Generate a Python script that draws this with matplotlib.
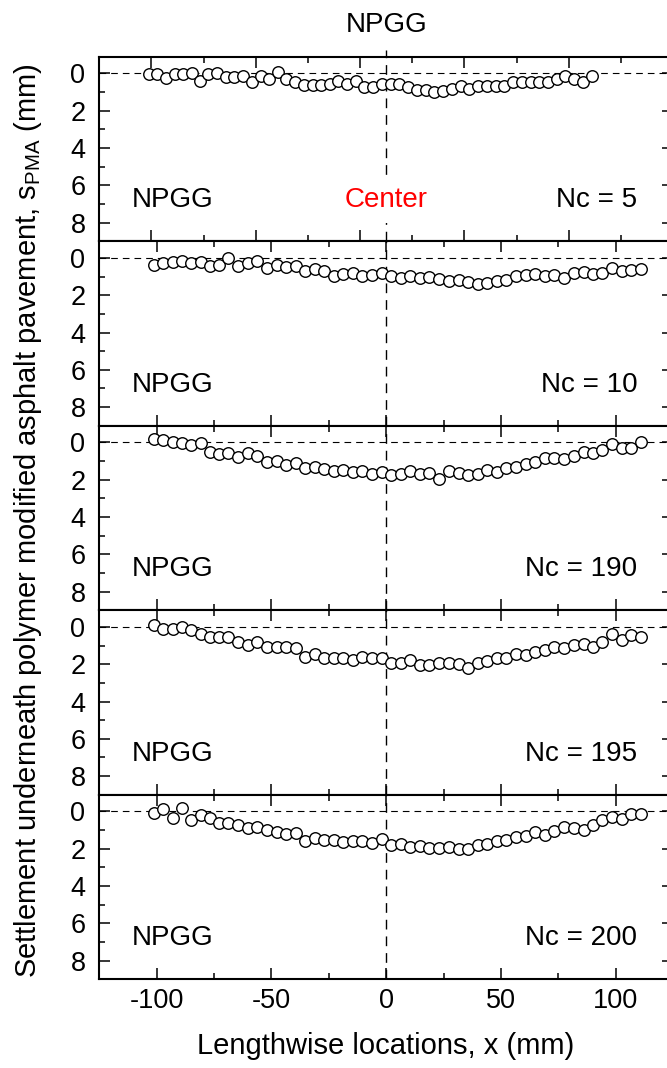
import matplotlib
matplotlib.use("Agg")
import matplotlib.pyplot as plt
from matplotlib.ticker import MultipleLocator
from matplotlib.transforms import blended_transform_factory

plt.rcParams['font.family'] = ['Liberation Sans', 'DejaVu Sans']
plt.rcParams['mathtext.fontset'] = 'custom'
plt.rcParams['mathtext.rm'] = 'Liberation Sans'
plt.rcParams['lines.scale_dashes'] = False

# ---------------- data ----------------
x_mm = [-101.1, -97.2, -92.9, -88.9, -84.9, -80.7, -76.8, -72.9, -68.8, -64.5,
        -60.3, -56.1, -52.0, -47.7, -43.6, -39.4, -35.3, -31.1, -27.0, -22.8,
        -18.7, -14.4, -10.4, -6.3, -2.0, 2.0, 6.3, 10.4, 14.6, 18.8,
        23.2, 27.5, 31.6, 35.6, 39.9, 44.0, 48.2, 52.4, 56.7, 60.8,
        65.0, 69.1, 73.3, 77.6, 81.8, 86.0, 90.1, 94.2, 98.4, 102.7,
        106.8, 111.2]

s_nc5 = [0.04, 0.04, 0.22, 0.02, 0.02, 0.00, 0.39, 0.02, -0.02, 0.18,
         0.20, 0.16, 0.48, 0.11, 0.30, -0.07, 0.29, 0.48, 0.61, 0.61,
         0.61, 0.59, 0.39, 0.54, 0.39, 0.75, 0.75, 0.57, 0.54, 0.57,
         0.72, 0.86, 0.90, 1.00, 0.95, 0.81, 0.66, 0.81, 0.66, 0.66,
         0.66, 0.68, 0.48, 0.48, 0.47, 0.47, 0.47, 0.29, 0.16, 0.30,
         0.47, 0.11]

s_nc10 = [0.36, 0.29, 0.23, 0.18, 0.27, 0.20, 0.45, 0.38, 0.00, 0.43,
          0.25, 0.18, 0.56, 0.36, 0.47, 0.41, 0.68, 0.61, 0.68, 0.95,
          0.88, 0.83, 0.95, 0.90, 0.83, 0.99, 1.06, 0.97, 1.10, 1.03,
          1.15, 1.24, 1.17, 1.28, 1.37, 1.32, 1.26, 1.19, 0.95, 0.90,
          0.86, 0.95, 0.92, 1.05, 0.79, 0.77, 0.86, 0.81, 0.56, 0.68,
          0.65, 0.58]

s_nc190 = [-0.18, -0.11, 0.00, 0.02, 0.11, 0.04, 0.50, 0.61, 0.54, 0.79,
           0.56, 0.70, 1.05, 0.97, 1.19, 1.08, 1.37, 1.32, 1.44, 1.53,
           1.48, 1.59, 1.51, 1.68, 1.59, 1.73, 1.68, 1.55, 1.71, 1.64,
           1.95, 1.51, 1.64, 1.77, 1.71, 1.48, 1.59, 1.37, 1.32, 1.14,
           1.06, 0.83, 0.83, 0.90, 0.70, 0.50, 0.56, 0.41, 0.07, 0.32,
           0.29, -0.04]

s_nc195 = [-0.11, 0.09, 0.13, 0.00, 0.18, 0.36, 0.54, 0.52, 0.56, 0.79,
           0.97, 0.83, 1.05, 1.06, 1.08, 1.14, 1.59, 1.44, 1.66, 1.68,
           1.69, 1.75, 1.60, 1.66, 1.69, 1.91, 1.93, 1.78, 2.02, 2.05,
           1.91, 1.95, 1.98, 2.20, 1.91, 1.80, 1.68, 1.69, 1.44, 1.48,
           1.35, 1.23, 1.06, 1.12, 0.99, 0.92, 1.10, 0.81, 0.36, 0.72,
           0.45, 0.52]

s_nc200 = [0.09, -0.11, 0.34, -0.16, 0.45, 0.20, 0.34, 0.63, 0.61, 0.72,
           0.88, 0.81, 0.97, 1.08, 1.21, 1.16, 1.60, 1.44, 1.53, 1.53,
           1.62, 1.57, 1.57, 1.71, 1.48, 1.80, 1.75, 1.89, 1.84, 1.98,
           1.96, 1.89, 2.04, 2.00, 1.80, 1.75, 1.57, 1.53, 1.37, 1.32,
           1.12, 1.24, 1.03, 0.84, 0.86, 0.97, 0.73, 0.45, 0.27, 0.39,
           0.16, 0.16]

series = [s_nc5, s_nc10, s_nc190, s_nc195, s_nc200]
nc_labels = ["Nc = 5", "Nc = 10", "Nc = 190", "Nc = 195", "Nc = 200"]
panel_name = "NPGG"
y_ticks = [0, 2, 4, 6, 8]
x_ticks = [-100, -50, 0, 50, 100]

# ---------------- layout ----------------
W_PX, H_PX = 667, 1068
fig = plt.figure(figsize=(W_PX / 100, H_PX / 100), dpi=100)

left_px, right_px = 99.3, 673.0
top_px, panel_px = 56.7, 184.5

axes = []
for i in range(5):
    top = top_px + panel_px * i
    bottom = 1 - (top + panel_px) / H_PX
    ax = fig.add_axes([left_px / W_PX, bottom, (right_px - left_px) / W_PX, panel_px / H_PX])
    axes.append(ax)

fs_tick = 19.5
fs_text = 20
fs_label = 21

for i, (ax, s) in enumerate(zip(axes, series)):
    ax.plot(x_mm, s, linestyle='none', marker='o', markersize=8.3,
            markerfacecolor='white', markeredgecolor='black', markeredgewidth=1.0,
            zorder=4, clip_on=False)
    ax.axhline(0, color='black', lw=0.8, dashes=(4.8, 3.6), zorder=1)
    if i == 0:
        ax.set_xlim(-125, 150)
    else:
        ax.set_xlim(-125, 125)
    ax.set_ylim(9, -0.9)
    ax.xaxis.set_major_locator(MultipleLocator(50))
    ax.xaxis.set_minor_locator(MultipleLocator(25))
    ax.set_yticks(y_ticks)
    ax.yaxis.set_minor_locator(MultipleLocator(1))
    ax.tick_params(which='both', direction='in', top=True, right=True,
                   width=1.1, labelsize=fs_tick)
    ax.tick_params(which='major', length=7.7)
    ax.tick_params(which='minor', length=4.1)
    ax.tick_params(axis='y', pad=10)
    ax.tick_params(axis='x', pad=6.5)
    for sp in ax.spines.values():
        sp.set_linewidth(1.5)
    if i < 4:
        ax.tick_params(axis='x', labelbottom=False)
    ax.text(0.057, 0.222, panel_name, transform=ax.transAxes, ha='left', va='center',
            fontsize=fs_text)
    ax.text(0.938, 0.222, nc_labels[i], transform=ax.transAxes, ha='right', va='center',
            fontsize=fs_text)

ref_ax = axes[-1]
axes[-1].set_xticks(x_ticks)
axes[-1].set_xticklabels([str(v) for v in x_ticks])

# vertical "Center" dashed line at x = 0 of the lower panels, through every panel
for i, ax in enumerate(axes):
    tr = blended_transform_factory(ref_ax.transData, ax.transAxes)
    y1 = 1.035 if i == 0 else 1.0
    ax.plot([0, 0], [0, y1], transform=tr, color='black', lw=1.0,
            dashes=(7, 5), zorder=1, clip_on=False)

tr0 = blended_transform_factory(ref_ax.transData, axes[0].transAxes)
axes[0].text(0, 0.222, "Center", transform=tr0, ha='center', va='center',
             color='#ff0000', fontsize=fs_text, zorder=5,
             bbox=dict(boxstyle='square,pad=0.35', facecolor='white', edgecolor='none'))

axes[0].set_title(panel_name, fontsize=fs_text, pad=18)

fig.text(386 / W_PX, (H_PX - 1054) / H_PX, "Lengthwise locations, x (mm)",
         ha='center', va='baseline', fontsize=fs_label)
fig.text(28 / W_PX, 0.513,
         r"Settlement underneath polymer modified asphalt pavement, s$_{\mathregular{PMA}}$ (mm)",
         ha='center', va='center', rotation=90, fontsize=fs_label)

fig.savefig("out.png", dpi=100)
